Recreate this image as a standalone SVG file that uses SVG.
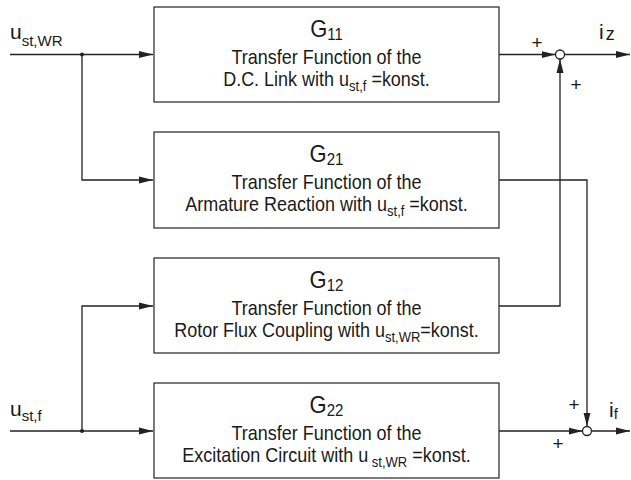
<svg xmlns="http://www.w3.org/2000/svg" width="631" height="480" viewBox="0 0 631 480">
<defs>
<style>
text{font-family:"Liberation Sans",Arial,sans-serif;fill:#1a1a1a}
.box{fill:#fff;stroke:#333;stroke-width:1.3}
.ln{fill:none;stroke:#222;stroke-width:1.3}
.t{font-size:18px;text-anchor:middle}
.g{font-size:22px;text-anchor:middle}
.sub{font-size:13px}
.gs{font-size:15px}
.pl{font-size:19px;text-anchor:middle}
.sum{fill:#fff;stroke:#222;stroke-width:1.3}
</style>
<marker id="ar" markerUnits="userSpaceOnUse" markerWidth="14" markerHeight="8" refX="14" refY="4" orient="auto">
<path d="M0,0.5 L14,4 L0,7.5 z" fill="#222"/>
</marker>
</defs>
<rect width="631" height="480" fill="#fff"/>

<g id="connectors">
<path class="ln" d="M10,54.5 H153" marker-end="url(#ar)"/>
<path class="ln" d="M82,54.5 V180 H153" marker-end="url(#ar)"/>
<path class="ln" d="M10,431 H153" marker-end="url(#ar)"/>
<path class="ln" d="M82,431 V306 H153" marker-end="url(#ar)"/>
<path class="ln" d="M499,54.5 H555.5" marker-end="url(#ar)"/>
<path class="ln" d="M564.5,54.5 H630" marker-end="url(#ar)"/>
<path class="ln" d="M499,306 H560 V59" marker-end="url(#ar)"/>
<path class="ln" d="M499,180 H587 V426.5" marker-end="url(#ar)"/>
<path class="ln" d="M499,431 H582.5" marker-end="url(#ar)"/>
<path class="ln" d="M591.5,431 H630" marker-end="url(#ar)"/>
<circle cx="82" cy="54.5" r="2" fill="#222"/>
<circle cx="82" cy="431" r="2" fill="#222"/>
</g>

<g id="in1">
<text x="10" y="39" style="font-size:21px">u<tspan class="sub" style="font-size:15px" dy="7">st,WR</tspan></text>
</g>
<g id="in2">
<text x="10" y="416" style="font-size:21px">u<tspan class="sub" style="font-size:15px" dy="5">st,f</tspan></text>
</g>

<g id="G11">
<rect class="box" x="154" y="7" width="345" height="95"/>
<text class="g" transform="translate(326.5,37) scale(1,1.12)">G<tspan class="gs" dy="3">11</tspan></text>
<text class="t" transform="translate(326.5,64) scale(1,1.15)">Transfer Function of the</text>
<text class="t" transform="translate(326.5,86) scale(1,1.15)">D.C. Link with u<tspan class="sub" dy="4">st,f</tspan><tspan dy="-4"> =konst.</tspan></text>
</g>

<g id="G21">
<rect class="box" x="154" y="132" width="345" height="96"/>
<text class="g" transform="translate(326.5,162) scale(1,1.12)">G<tspan class="gs" dy="3">21</tspan></text>
<text class="t" transform="translate(326.5,189) scale(1,1.15)">Transfer Function of the</text>
<text class="t" transform="translate(326.5,211) scale(1,1.15)">Armature Reaction with u<tspan class="sub" dy="4">st,f</tspan><tspan dy="-4"> =konst.</tspan></text>
</g>

<g id="G12">
<rect class="box" x="154" y="258" width="345" height="95"/>
<text class="g" transform="translate(326.5,288) scale(1,1.12)">G<tspan class="gs" dy="3">12</tspan></text>
<text class="t" transform="translate(326.5,315) scale(1,1.15)">Transfer Function of the</text>
<text class="t" transform="translate(326.5,337) scale(1,1.15)">Rotor Flux Coupling with u<tspan class="sub" dy="4">st,WR</tspan><tspan dy="-4">=konst.</tspan></text>
</g>

<g id="G22">
<rect class="box" x="154" y="383" width="345" height="95"/>
<text class="g" transform="translate(326.5,413) scale(1,1.12)">G<tspan class="gs" dy="3">22</tspan></text>
<text class="t" transform="translate(326.5,440) scale(1,1.15)">Transfer Function of the</text>
<text class="t" transform="translate(326.5,462) scale(1,1.15)">Excitation Circuit with u<tspan class="sub" dy="4"> st,WR</tspan><tspan dy="-4"> =konst.</tspan></text>
</g>

<g id="sum1">
<circle class="sum" cx="560" cy="54.5" r="4.5"/>
<text class="pl" x="537" y="49">+</text>
<text class="pl" x="576" y="91">+</text>
</g>
<g id="sum2">
<circle class="sum" cx="587" cy="431" r="4.5"/>
<text class="pl" x="574" y="411">+</text>
<text class="pl" x="558" y="450">+</text>
</g>

<g id="out1">
<text x="599" y="39" style="font-size:21px">i<tspan style="font-size:18px" dx="2" dy="1">z</tspan></text>
</g>
<g id="out2">
<text x="609" y="417" style="font-size:21px">i<tspan style="font-size:15px" dy="2">f</tspan></text>
</g>
</svg>
